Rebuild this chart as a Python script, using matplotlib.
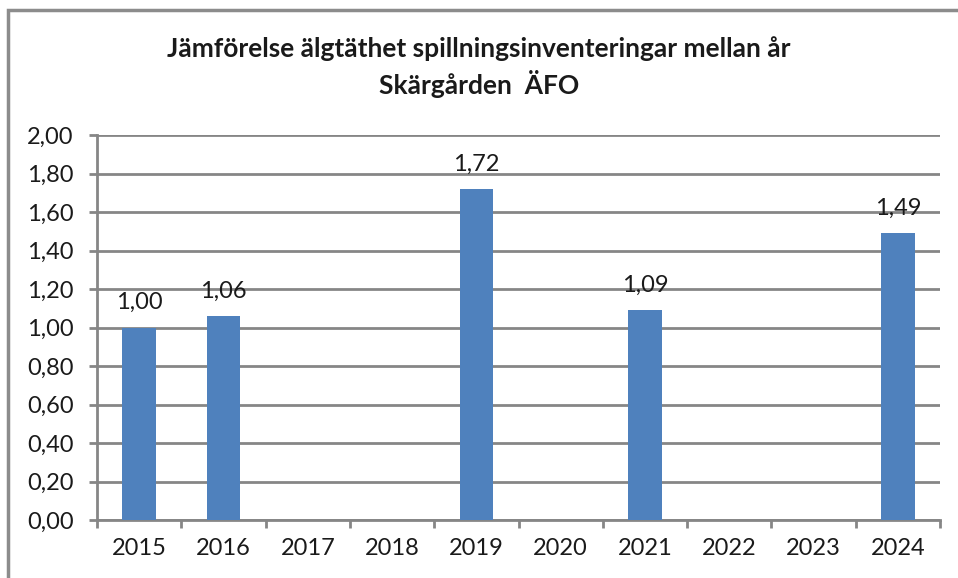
import matplotlib.pyplot as plt
from matplotlib.patches import Rectangle
import numpy as np

# data
years = ["2015", "2016", "2017", "2018", "2019", "2020", "2021", "2022", "2023", "2024"]
density = [1.00, 1.06, None, None, 1.72, None, 1.09, None, None, 1.49]
yticks = [0.0, 0.2, 0.4, 0.6, 0.8, 1.0, 1.2, 1.4, 1.6, 1.8, 2.0]

title = "Jämförelse älgtäthet spillningsinventeringar mellan år\nSkärgården  ÄFO"

bar_color = "#4F81BD"
grid_color = "#868686"
plt.rcParams['font.family'] = ['Lato', 'DejaVu Sans']

fig = plt.figure(figsize=(9.58, 5.78), dpi=100)
ax = fig.add_axes([0.1013, 0.1003, 0.8799, 0.6661])

x = np.arange(len(years))
for xi, v in zip(x, density):
    if v is None:
        continue
    ax.bar(xi, v, width=0.4, color=bar_color, zorder=3)
    ax.text(xi, v + 0.075, f"{v:.2f}".replace(".", ","), ha="center", va="bottom",
            fontsize=17, color="#1a1a1a", zorder=4)

ax.set_xlim(-0.5, len(years) - 0.5)
ax.set_ylim(0, 2.0)
ax.set_yticks(yticks)
ax.set_yticklabels([f"{t:.2f}".replace(".", ",") for t in yticks], fontsize=17, color="#1a1a1a")
ax.set_xticks(x)
ax.set_xticklabels(years, fontsize=17, color="#1a1a1a")
ax.tick_params(axis="x", length=0, pad=13)
ax.tick_params(axis="y", length=6, width=2, color=grid_color, pad=11)
# category separator ticks
ax.set_xticks(np.arange(-0.5, len(years)), minor=True)
ax.tick_params(axis="x", which="minor", length=6, width=2, color=grid_color)

ax.grid(axis="y", color=grid_color, linewidth=2, zorder=0)
for s in ["top", "right"]:
    ax.spines[s].set_visible(False)
for s in ["left", "bottom"]:
    ax.spines[s].set_color(grid_color)
    ax.spines[s].set_linewidth(2)

fig.text(0.5, 0.884, title, ha="center", va="center", fontsize=19, fontweight="bold",
         color="#1a1a1a", linespacing=1.35)

# chart frame (cut off at right and bottom in the original)
fig.patches.append(Rectangle((8 / 958, -0.05), 1.0, (578 - 10) / 578 + 0.05,
                             transform=fig.transFigure, fill=False,
                             edgecolor="#8c8c8c", linewidth=2.5))

fig.savefig("out.png", dpi=100)
